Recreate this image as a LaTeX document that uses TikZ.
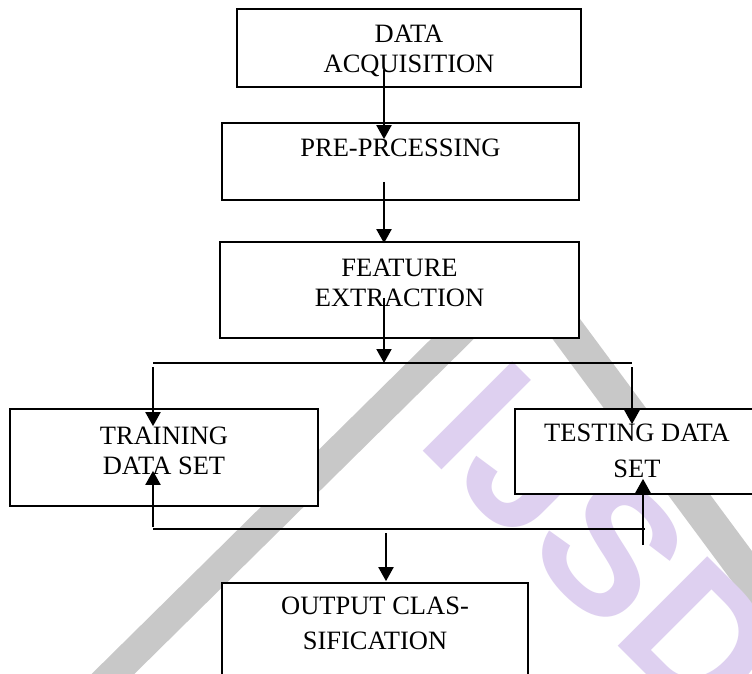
\documentclass[tikz,border=0pt]{standalone}
\usepackage{fontspec}
\setmainfont{Liberation Serif}
\newfontfamily\wmfont{Liberation Sans}
\usetikzlibrary{arrows.meta,positioning,calc}

\definecolor{wmgrey}{RGB}{200,200,200}
\definecolor{wmlilac}{RGB}{222,208,240}

\tikzset{
  box/.style={draw, fill=white, line width=1.7pt, inner sep=0pt},
  boxtext/.style={align=center, inner sep=0pt, font=\fontsize{26.5}{30}\selectfont},
  flow/.style={->, line width=2pt},
  split/.style={line width=1.7pt},
  wmletter/.style={anchor=base west, rotate=-45, inner sep=0pt, text=wmlilac,
    font=\wmfont\bfseries\fontsize{184}{184}\selectfont},
}

\begin{document}
\begin{tikzpicture}[x=1pt, y=-1pt, >={Triangle[width=15pt,length=14pt]}]

    \path[use as bounding box, clip] (0,0) rectangle (752,674);
    \fill[white] (0,0) rectangle (752,674);

    % Watermark
    \draw[wmgrey, line width=30pt] (500,292) -- (40,746);
    \draw[wmgrey, line width=34pt] (530,280) -- (790,631);
    \node[wmletter] (wmi) at (414,442) {I};
    \node[wmletter] (wmj) at (450.2,478.2) {J};
    \node[wmletter] (wms) at (522.5,550.5) {S};
    \node[wmletter] (wmd) at (609.3,637.3) {D};

    % Boxes
    \node[box, minimum width=344pt, minimum height=78pt] (acq) at (409,48) {};
    \node[box, minimum width=357pt, minimum height=77pt] (pre) at (400.5,161.5) {};
    \node[box, minimum width=359pt, minimum height=96pt] (feat) at (399.5,290) {};
    \node[box, minimum width=308pt, minimum height=97pt] (train) at (164,457.5) {};
    \node[box, minimum width=244pt, minimum height=85pt] (test) at (637,451.5) {};
    \node[box, minimum width=306pt, minimum height=117pt] (out) at (375,641.5) {};

    % Box texts
    \node[boxtext, below=17pt of acq.north] (acqtxt) {DATA\\ACQUISITION};
    \node[boxtext, below=17pt of pre.north] (pretxt) {PRE-PRCESSING};
    \node[boxtext, below=18pt of feat.north] (feattxt) {FEATURE\\EXTRACTION};
    \node[boxtext, below=19pt of train.north] (traintxt) {TRAINING\\DATA SET};
    \node[boxtext, below=16pt of test.north] (testtxt) {TESTING DATA\\[6pt]SET};
    \node[boxtext, below=15pt of out.north] (outtxt) {OUTPUT CLAS-\\[5pt]SIFICATION};

    % Top chain
    \draw[flow] ([xshift=-25pt,yshift=18pt]acq.south) -- ([xshift=-16.5pt,yshift=-17pt]pre.north);
    \draw[flow] ([xshift=-16.5pt,yshift=19pt]pre.south) -- ([xshift=-15.5pt,yshift=-2pt]feat.north);

    % Split to training and testing
    \coordinate (splitl) at (153,363);
    \coordinate (splitm) at (384,363);
    \coordinate (splitr) at (632,363);
    \draw[flow] ([xshift=-15.5pt,yshift=41pt]feat.south) -- (splitm);
    \draw[split] (splitl) -- (splitr);
    \draw[flow] ([yshift=-4pt]splitl) -- ($(train.north -| splitl)+(0,18)$);
    \draw[flow] ([yshift=-4pt]splitr) -- ($(test.north -| splitr)+(0,16)$);

    % Return lines
    \coordinate (joinl) at (153,529);
    \coordinate (joinr) at (645,529);
    \coordinate (testfoot) at (643,545);
    \draw[split] (joinl) -- (joinr);
    \draw[flow] ([yshift=2pt]joinl) -- ($(train.south -| joinl)+(0,-36)$);
    \draw[flow] (testfoot) -- ($(test.south -| testfoot)+(0,-16)$);

    % Output
    \coordinate (outtop) at (386,533);
    \draw[flow] (outtop) -- ($(out.north -| outtop)+(0,-1)$);

\end{tikzpicture}
\end{document}
